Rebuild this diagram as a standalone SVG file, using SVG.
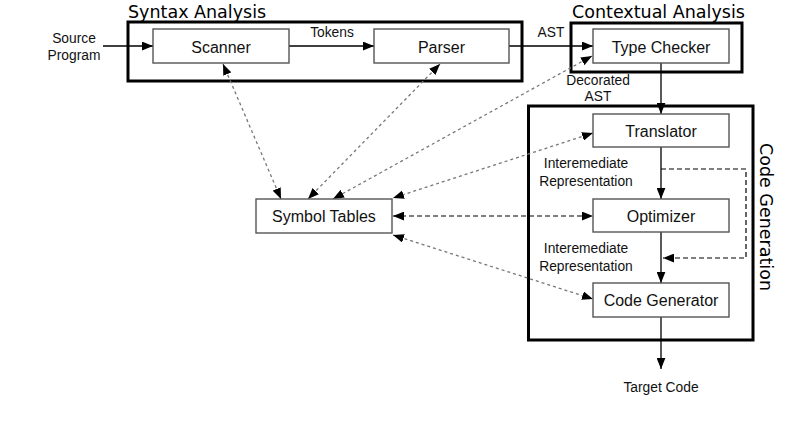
<svg xmlns="http://www.w3.org/2000/svg" width="793" height="424" viewBox="0 0 793 424">
<style>
.bg{fill:#fff}
.group{fill:none;stroke:#000;stroke-width:3}
.node rect{fill:#fff;stroke:#555;stroke-width:1.4}
.node text{font-family:"Liberation Sans",Arial,sans-serif;font-size:16px;fill:#111;text-anchor:middle}
.title{font-family:"DejaVu Sans",sans-serif;font-size:17.5px;fill:#000}
.lbl{font-family:"Liberation Sans",Arial,sans-serif;font-size:13.8px;fill:#111}
.lbl.m{text-anchor:middle}
.solid{fill:none;stroke:#000;stroke-width:1.3}
.dg{fill:none;stroke:#777;stroke-width:1.3;stroke-dasharray:3,3}
.db{fill:none;stroke:#000;stroke-width:1.2;stroke-dasharray:5,3}
</style>
<defs>
<marker id="ah" viewBox="0 0 10 8" refX="10" refY="4" markerWidth="11" markerHeight="9" markerUnits="userSpaceOnUse" orient="auto-start-reverse">
<path d="M0,0 L10,4 L0,8 z" fill="#000"/>
</marker>
</defs>
<rect class="bg" width="793" height="424"/>

<g id="syntax-analysis">
<rect class="group" x="128" y="22" width="394" height="59"/>
<text class="title" x="128" y="17.5">Syntax Analysis</text>
</g>
<g id="contextual-analysis">
<rect class="group" x="571" y="23" width="171" height="49"/>
<text class="title" x="572" y="17.5">Contextual Analysis</text>
</g>
<g id="code-generation">
<rect class="group" x="528.5" y="106" width="224.5" height="234"/>
<text class="title" transform="translate(760,143) rotate(90)">Code Generation</text>
</g>

<g id="connectors">
<line class="solid" x1="103" y1="46" x2="153" y2="46" marker-end="url(#ah)"/>
<line class="solid" x1="289" y1="46" x2="374" y2="46" marker-end="url(#ah)"/>
<line class="solid" x1="509" y1="46" x2="593" y2="46" marker-end="url(#ah)"/>
<line class="solid" x1="661" y1="63" x2="661" y2="114" marker-end="url(#ah)"/>
<line class="solid" x1="661" y1="147" x2="661" y2="199" marker-end="url(#ah)"/>
<line class="solid" x1="661" y1="232" x2="661" y2="283" marker-end="url(#ah)"/>
<line class="solid" x1="661" y1="317" x2="661" y2="369" marker-end="url(#ah)"/>
<path class="db" d="M661,169 H746 V258 H663" marker-end="url(#ah)"/>
<line class="dg" x1="223" y1="64" x2="281" y2="199" marker-start="url(#ah)" marker-end="url(#ah)"/>
<line class="dg" x1="440" y1="64" x2="308" y2="199" marker-start="url(#ah)" marker-end="url(#ah)"/>
<line class="dg" x1="592" y1="56" x2="333" y2="199" marker-start="url(#ah)" marker-end="url(#ah)"/>
<line class="dg" x1="593" y1="133" x2="393" y2="198" marker-start="url(#ah)" marker-end="url(#ah)"/>
<line class="db" x1="393" y1="216" x2="593" y2="216" marker-start="url(#ah)" marker-end="url(#ah)"/>
<line class="dg" x1="393" y1="235" x2="593" y2="299" marker-start="url(#ah)" marker-end="url(#ah)"/>
<text class="lbl m" x="74" y="43">Source</text>
<text class="lbl m" x="74" y="60">Program</text>
<text class="lbl m" x="332" y="37">Tokens</text>
<text class="lbl m" x="551" y="37">AST</text>
<text class="lbl m" x="598" y="85">Decorated</text>
<text class="lbl m" x="598" y="101">AST</text>
<text class="lbl m" x="586" y="168">Interemediate</text>
<text class="lbl m" x="586" y="186">Representation</text>
<text class="lbl m" x="586" y="253">Interemediate</text>
<text class="lbl m" x="586" y="271">Representation</text>
<text class="lbl m" x="661" y="392">Target Code</text>
</g>

<g id="scanner" class="node"><rect x="153" y="29" width="136" height="34"/><text x="221" y="52.5">Scanner</text></g>
<g id="parser" class="node"><rect x="374" y="29" width="135" height="34"/><text x="441.5" y="52.5">Parser</text></g>
<g id="type-checker" class="node"><rect x="593" y="29" width="136" height="34"/><text x="661" y="52.5">Type Checker</text></g>
<g id="translator" class="node"><rect x="593" y="114" width="136" height="33"/><text x="661" y="137">Translator</text></g>
<g id="optimizer" class="node"><rect x="593" y="199" width="136" height="33"/><text x="661" y="221.5">Optimizer</text></g>
<g id="code-generator" class="node"><rect x="593" y="283" width="136" height="34"/><text x="661" y="306">Code Generator</text></g>
<g id="symbol-tables" class="node"><rect x="256" y="199" width="136" height="34"/><text x="324" y="222">Symbol Tables</text></g>
</svg>
